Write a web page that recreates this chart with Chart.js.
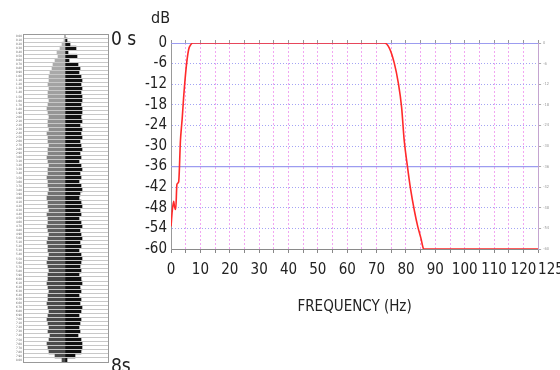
<!DOCTYPE html>
<html>
<head>
<meta charset="utf-8">
<script src="https://cdn.jsdelivr.net/npm/chart.js@4.4.1/dist/chart.umd.min.js"></script>
<style>
  body { margin: 0; width: 560px; height: 370px; background: #fff; position: relative; overflow: hidden;
         font-family: "Liberation Sans Narrow", "DejaVu Sans Condensed", sans-serif; }
  canvas { position: absolute; top: 0; }
  #traceChart { left: 0; }
  #respChart { left: 130px; }
  .lbl { position: absolute; color: #222; line-height: 1; }
</style>
</head>
<body>
<canvas id="traceChart" width="135" height="370"></canvas>
<canvas id="respChart" width="430" height="370"></canvas>
<div class="lbl" style="left:111px;top:29px;font-size:19px">0 s</div>
<div class="lbl" style="left:111px;top:356px;font-size:19px">8s</div>
<div class="lbl" style="left:151px;top:10px;font-size:16px">dB</div>
<script>
const FONT = '"Liberation Sans Narrow", "DejaVu Sans Condensed", sans-serif'

// filter response
const freqHz = [0, 0.4, 0.9, 1.2, 1.6, 2.0, 2.6, 3.2, 3.5, 3.8, 4.3, 5.2, 6.0, 6.8, 7.4,
  40, 72.6, 74.3, 76.0, 77.4, 78.5, 79.4, 80.4, 81.5, 82.9, 84.0, 85.1, 85.9, 86.2, 125]
const gainDb = [-53.4, -49, -46.1, -47.8, -48.5, -41.2, -40.4, -28.4, -25, -22, -15.7, -6.8, -1.9, -0.4, 0,
  0, 0, -1.4, -5.8, -11.7, -18.6, -28.4, -35.3, -42.2, -49, -53.4, -56.9, -59.8, -60, -60]

const xTickLabels = [0, 10, 20, 30, 40, 50, 60, 70, 80, 90, 100, 110, 120, 125]
const xGridSteps = [0, 5, 10, 15, 20, 25, 30, 35, 40, 45, 50, 55, 60, 65, 70, 75, 80, 85, 90, 95, 100, 105, 110, 115, 120, 125]
const yTickLabels = [0, -6, -12, -18, -24, -30, -36, -42, -48, -54, -60]
const refLevels = [0, -36]

// seismic trace panel: time rows (s), trough (grey, left) and peak (black, right) amplitudes
const traceTimes = [0.0, 0.1, 0.2, 0.3, 0.4, 0.5, 0.6, 0.7, 0.8, 0.9, 1.0, 1.1, 1.2, 1.3, 1.4, 1.5, 1.6, 1.7, 1.8, 1.9,
  2.0, 2.1, 2.2, 2.3, 2.4, 2.5, 2.6, 2.7, 2.8, 2.9, 3.0, 3.1, 3.2, 3.3, 3.4, 3.5, 3.6, 3.7, 3.8, 3.9,
  4.0, 4.1, 4.2, 4.3, 4.4, 4.5, 4.6, 4.7, 4.8, 4.9, 5.0, 5.1, 5.2, 5.3, 5.4, 5.5, 5.6, 5.7, 5.8, 5.9,
  6.0, 6.1, 6.2, 6.3, 6.4, 6.5, 6.6, 6.7, 6.8, 6.9, 7.0, 7.1, 7.2, 7.3, 7.4, 7.5, 7.6, 7.7, 7.8, 7.9, 8.0]
const troughAmp = [0, 1, 3, 5, 8, 7, 10, 12, 13, 15, 16, 16, 17, 16, 17, 17, 16, 17, 18, 17,
  16, 17, 17, 16, 18, 17, 17, 16, 17, 17, 18, 17, 16, 17, 17, 18, 17, 17, 16, 17,
  18, 17, 17, 16, 18, 17, 17, 18, 17, 16, 17, 18, 17, 17, 16, 17, 18, 17, 16, 17,
  17, 18, 17, 16, 17, 17, 18, 17, 16, 17, 18, 17, 16, 17, 15, 16, 18, 17, 16, 10, 3]
const peakAmp = [0, 2, 5, 11, 3, 12, 4, 13, 15, 14, 16, 17, 16, 17, 16, 17, 17, 16, 17, 17,
  16, 17, 15, 17, 16, 17, 15, 16, 17, 15, 16, 14, 16, 17, 15, 16, 14, 16, 17, 15,
  14, 16, 17, 15, 16, 14, 16, 17, 15, 16, 17, 15, 16, 14, 16, 17, 16, 15, 16, 14,
  16, 17, 15, 16, 14, 16, 15, 17, 16, 14, 16, 15, 14, 15, 13, 16, 17, 17, 16, 10, 2]

const greyShade = (i) => {
  const v = Math.round(185 - 110 * Math.min(1, i / 60))
  return `rgb(${v},${v},${v})`
}

// thin frame round the trace panel
const framePlugin = {
  id: "frame",
  afterDraw(chart) {
    const { ctx, chartArea: a } = chart
    ctx.save()
    ctx.strokeStyle = "#999"
    ctx.lineWidth = 1
    ctx.strokeRect(Math.round(a.left) + 0.5, Math.round(a.top) + 0.5, Math.round(a.right - a.left), Math.round(a.bottom - a.top))
    ctx.restore()
  },
}

new Chart(document.getElementById("traceChart"), {
  type: "bar",
  data: {
    labels: traceTimes.map((t) => t.toFixed(2)),
    datasets: [
      {
        data: troughAmp.map((a) => [-a, 0]),
        backgroundColor: (ctx) => greyShade(ctx.dataIndex),
        grouped: false,
        barPercentage: 1,
        categoryPercentage: 1,
      },
      {
        data: peakAmp.map((a) => [0, a]),
        backgroundColor: "#111",
        grouped: false,
        barPercentage: 1,
        categoryPercentage: 1,
      },
    ],
  },
  options: {
    indexAxis: "y",
    responsive: false,
    animation: false,
    plugins: { legend: { display: false }, tooltip: { enabled: false } },
    layout: { padding: { left: 15, top: 34, right: 27, bottom: 8 } },
    scales: {
      x: { display: false, min: -42, max: 43 },
      y: {
        ticks: { autoSkip: false, font: { size: 3, family: FONT }, color: "#666", padding: 1 },
        grid: { color: "#c8c8c8", z: 1, drawTicks: false },
        border: { display: false },
      },
    },
  },
  plugins: [framePlugin],
})

new Chart(document.getElementById("respChart"), {
  type: "line",
  data: {
    datasets: [
      {
        data: freqHz.map((f, i) => ({ x: f, y: gainDb[i] })),
        borderColor: "#ff2a2a",
        borderWidth: 1.6,
        pointRadius: 0,
        cubicInterpolationMode: "monotone",
        order: 0,
      },
      ...refLevels.map((lv) => ({
        data: [{ x: 0, y: lv }, { x: 125, y: lv }],
        borderColor: "#9c9cf0",
        borderWidth: lv === 0 ? 2 : 1.3,
        pointRadius: 0,
        order: 1,
      })),
    ],
  },
  options: {
    responsive: false,
    animation: false,
    plugins: { legend: { display: false }, tooltip: { enabled: false } },
    layout: { padding: { left: 11, top: 40, right: 9, bottom: 54 } },
    scales: {
      x: {
        type: "linear",
        min: 0,
        max: 125,
        afterBuildTicks: (s) => { s.ticks = xGridSteps.map((v) => ({ value: v })) },
        // let the last label hang past the plot instead of shrinking it
        afterFit: (s) => { s.paddingRight = 0 },
        ticks: {
          autoSkip: false,
          maxRotation: 0,
          padding: 8,
          color: "#222",
          font: { size: 15, family: FONT },
          callback: (v) => (v === 125 ? "      125" : xTickLabels.includes(v) ? String(v) : ""),
        },
        grid: { color: "#f2a6f2", tickLength: 4, tickColor: "#888" },
        border: { color: "#8a8a8a", dash: [2, 2] },
        title: {
          display: true,
          text: "FREQUENCY (Hz)",
          color: "#222",
          font: { size: 15, family: FONT },
          padding: { top: 11, bottom: 0 },
        },
      },
      xTop: {
        type: "linear",
        position: "top",
        min: 0,
        max: 125,
        afterBuildTicks: (s) => { s.ticks = xGridSteps.map((v) => ({ value: v })) },
        ticks: { display: false },
        grid: { drawOnChartArea: false, tickLength: 3, tickColor: "#999" },
        border: { display: false },
      },
      y: {
        min: -60,
        max: 0,
        afterBuildTicks: (s) => { s.ticks = yTickLabels.map((v) => ({ value: v })) },
        ticks: { autoSkip: false, padding: 4, color: "#222", font: { size: 15, family: FONT } },
        grid: { color: "#a4a4f4", drawTicks: false },
        border: { color: "#999", dash: [1, 2] },
      },
      y2: {
        position: "right",
        min: -60,
        max: 0,
        afterBuildTicks: (s) => { s.ticks = yTickLabels.map((v) => ({ value: v })) },
        ticks: { autoSkip: false, padding: 2, color: "#999", font: { size: 4, family: FONT } },
        grid: { drawOnChartArea: false, tickLength: 3, tickColor: "#aaa" },
        border: { color: "#c4a4d0" },
      },
    },
  },
})
</script>
</body>
</html>
